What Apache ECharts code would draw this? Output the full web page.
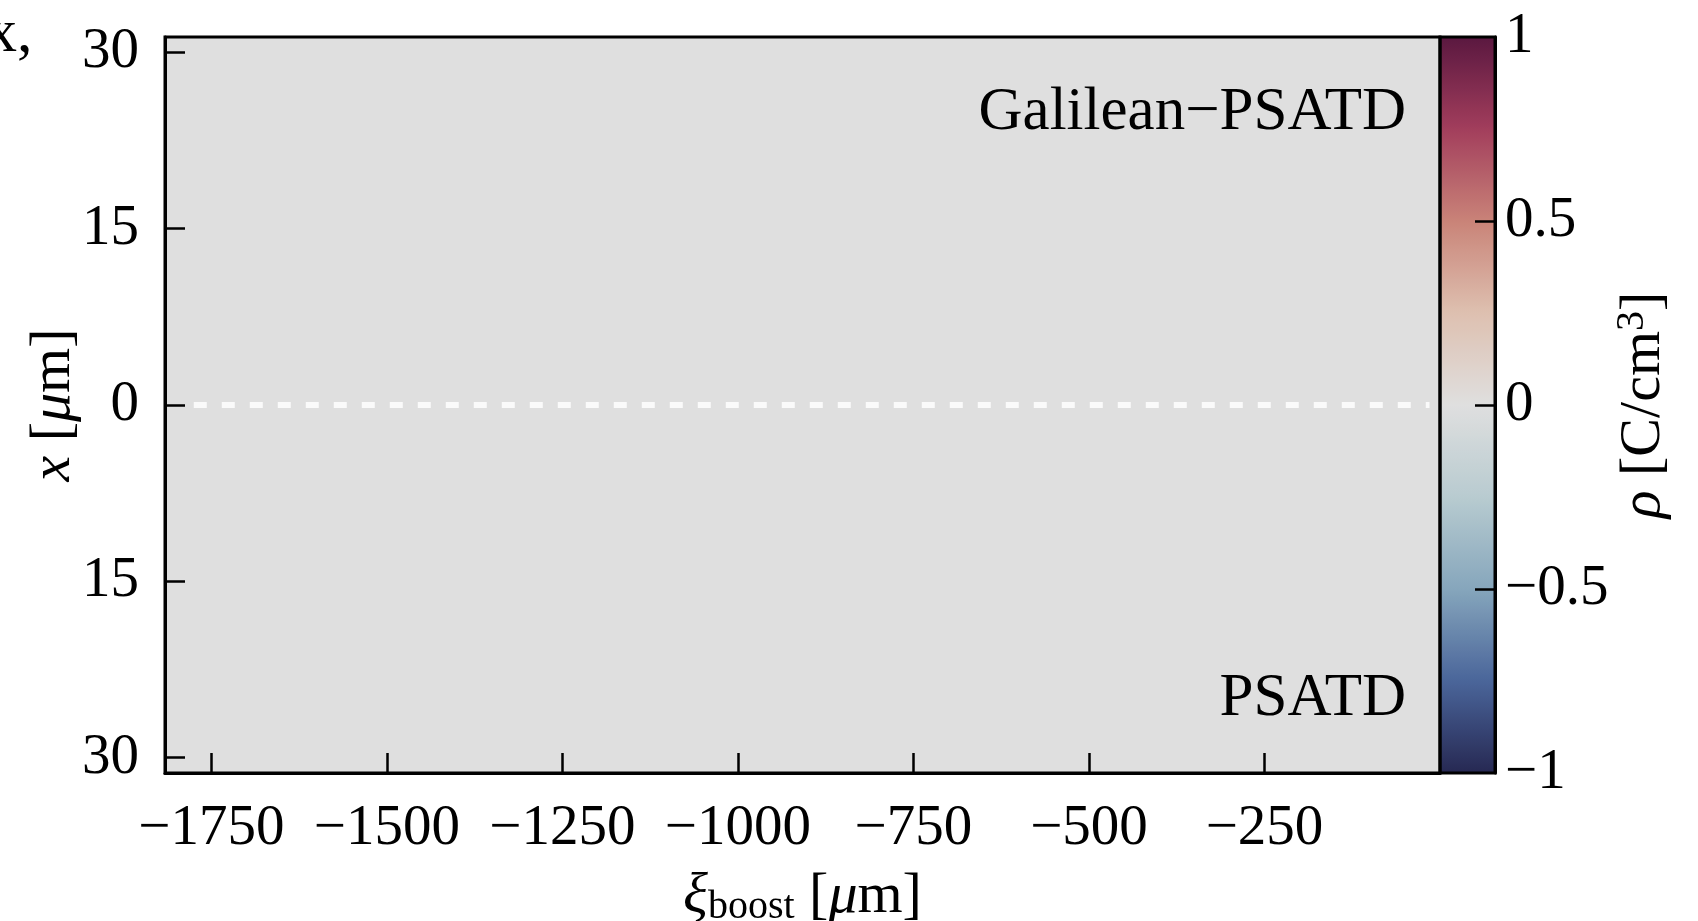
<!DOCTYPE html>
<html lang="en">
<head>
    <meta charset="UTF-8">
    <title>rho field</title>
    <style>
        html, body { margin: 0; padding: 0; background: #fff; }
        #chart { width: 1698px; height: 921px; }
    </style>
</head>
<body>
<div id="chart"></div>
<script src="https://cdn.jsdelivr.net/npm/echarts@6/dist/echarts.min.js"></script>
<script>
    // axis ranges and tick values
    var xRange = [-1816, 0];
    var yRange = [-31.3, 31.3];
    var xTicks = [-1750, -1500, -1250, -1000, -750, -500, -250];
    var yTicks = [-30, -15, 0, 15, 30];
    var cbarRange = [-1, 1];
    var cbarTicks = [-1, -0.5, 0, 0.5, 1];

    // the field: one cell covering the whole window, rho = 0 everywhere
    var fieldX = [-1816, 0];
    var fieldY = [-31.3, 31.3];
    var fieldRho = [0];

    // white dashed separator between the two solvers (x = 0)
    var sepX = [-1775, -15];
    var sepY = [0, 0];

    // colormap stops, -1 .. 1
    var cmap = ['#262852', '#4a659a', '#86a6bc', '#b8cbd0', '#dfdfdf',
                '#dec0b0', '#c98378', '#a23e5c', '#5a1840'];

    var FONT = 'Liberation Serif';

    function minus(v) {
        return String(v).replace('-', '\u2212');
    }

    var fieldData = [];
    for (var i = 0; i < fieldRho.length; i++) {
        fieldData.push([fieldX[0], fieldX[1], fieldY[0], fieldY[1], fieldRho[i]]);
    }
    var sepData = [];
    for (var i = 0; i < sepX.length; i++) {
        sepData.push([sepX[i], sepY[i]]);
    }

    var tickStyle = { color: '#000', width: 2.5 };
    var lineStyle = { color: '#000', width: 3 };

    var myChart = echarts.init(document.getElementById('chart'));
    myChart.setOption({
        animation: false,
        textStyle: { fontFamily: FONT, color: '#000' },
        grid: [
            { left: 165, top: 37, width: 1275, height: 736, outerBoundsMode: 'none',
              show: true, borderColor: '#000', borderWidth: 3, z: 10 },
            { left: 1440, top: 37, width: 55, height: 736, outerBoundsMode: 'none',
              show: true, borderColor: '#000', borderWidth: 3, z: 10 }
        ],
        xAxis: [
            {
                gridIndex: 0, type: 'value', min: xRange[0], max: xRange[1], z: 10,
                position: 'bottom',
                axisLine: { show: true, onZero: false, lineStyle: lineStyle },
                axisTick: { show: true, inside: true, length: 20, customValues: xTicks, lineStyle: tickStyle },
                axisLabel: { customValues: xTicks, fontSize: 57, margin: 28, color: '#000',
                             fontFamily: FONT, formatter: minus },
                splitLine: { show: false },
                name: '{xi|\u03be}{sub|boost}{t| [}{mu|\u03bc}{t|m]}',
                nameLocation: 'middle', nameGap: 94,
                nameTextStyle: {
                    rich: {
                        xi: { fontSize: 58, fontStyle: 'italic', fontFamily: FONT },
                        sub: { fontSize: 40, fontFamily: FONT, padding: [20, 0, 0, 0] },
                        t: { fontSize: 58, fontFamily: FONT },
                        mu: { fontSize: 58, fontStyle: 'italic', fontFamily: FONT }
                    }
                }
            },
            {
                gridIndex: 1, type: 'value', min: 0, max: 1, show: false
            }
        ],
        yAxis: [
            {
                gridIndex: 0, type: 'value', min: yRange[0], max: yRange[1], z: 10,
                position: 'left',
                axisLine: { show: true, onZero: false, lineStyle: lineStyle },
                axisTick: { show: true, inside: true, length: 20, customValues: yTicks, lineStyle: tickStyle },
                axisLabel: { customValues: yTicks, fontSize: 57, margin: 26, color: '#000',
                             fontFamily: FONT,
                             formatter: function (v) { return String(Math.abs(v)); } },
                splitLine: { show: false },
                name: '{x|x}{t| [}{mu|\u03bc}{t|m]}',
                nameLocation: 'middle', nameGap: 82, nameRotate: 90,
                nameMoveOverlap: false,
                nameTextStyle: {
                    rich: {
                        x: { fontSize: 58, fontStyle: 'italic', fontFamily: FONT },
                        t: { fontSize: 58, fontFamily: FONT },
                        mu: { fontSize: 58, fontStyle: 'italic', fontFamily: FONT }
                    }
                }
            },
            {
                gridIndex: 1, type: 'value', position: 'right', z: 10,
                min: cbarRange[0], max: cbarRange[1],
                axisLine: { show: true, onZero: false, lineStyle: lineStyle },
                axisTick: { show: true, inside: true, length: 20, customValues: cbarTicks.slice(1, -1),
                            lineStyle: tickStyle },
                axisLabel: { customValues: cbarTicks, fontSize: 57, margin: 10, color: '#000',
                             fontFamily: FONT, formatter: minus },
                splitLine: { show: false },
                name: '{rho|\u03c1}{t| [C/cm}{sup|3}{t|]}',
                nameLocation: 'middle', nameGap: 114, nameRotate: 90,
                nameTextStyle: {
                    rich: {
                        rho: { fontSize: 58, fontStyle: 'italic', fontFamily: FONT },
                        t: { fontSize: 58, fontFamily: FONT },
                        sup: { fontSize: 40, fontFamily: FONT, padding: [0, 0, 22, 0] }
                    }
                }
            }
        ],
        visualMap: {
            type: 'continuous',
            seriesIndex: 0,
            dimension: 4,
            min: cbarRange[0], max: cbarRange[1],
            calculable: false,
            hoverLink: false,
            showLabel: false,
            text: null,
            left: 1440, top: 37,
            padding: 0,
            itemWidth: 55, itemHeight: 736,
            inRange: { color: cmap }
        },
        graphic: [
            { type: 'text', right: 292, top: 82, z: 20,
              style: { text: 'Galilean\u2212PSATD', font: '61px "Liberation Serif"', fill: '#000' } },
            { type: 'text', right: 292, top: 668, z: 20,
              style: { text: 'PSATD', font: '61px "Liberation Serif"', fill: '#000' } },
            { type: 'text', left: -14, top: 4, z: 20,
              style: { text: 'x,', font: '62px "Liberation Serif"', fill: '#000' } }
        ],
        series: [
            {
                name: 'rho',
                type: 'custom',
                xAxisIndex: 0, yAxisIndex: 0,
                z: 1,
                data: fieldData,
                renderItem: function (params, api) {
                    var p0 = api.coord([api.value(0), api.value(3)]);
                    var p1 = api.coord([api.value(1), api.value(2)]);
                    return {
                        type: 'rect',
                        shape: { x: p0[0], y: p0[1], width: p1[0] - p0[0], height: p1[1] - p0[1] },
                        style: { fill: api.visual('color') }
                    };
                },
                silent: true
            },
            {
                name: 'separator',
                type: 'line',
                xAxisIndex: 0, yAxisIndex: 0,
                z: 5,
                data: sepData,
                symbol: 'none',
                lineStyle: { color: '#fafafa', width: 6, type: [13, 15] },
                silent: true
            }
        ]
    });
</script>
</body>
</html>
